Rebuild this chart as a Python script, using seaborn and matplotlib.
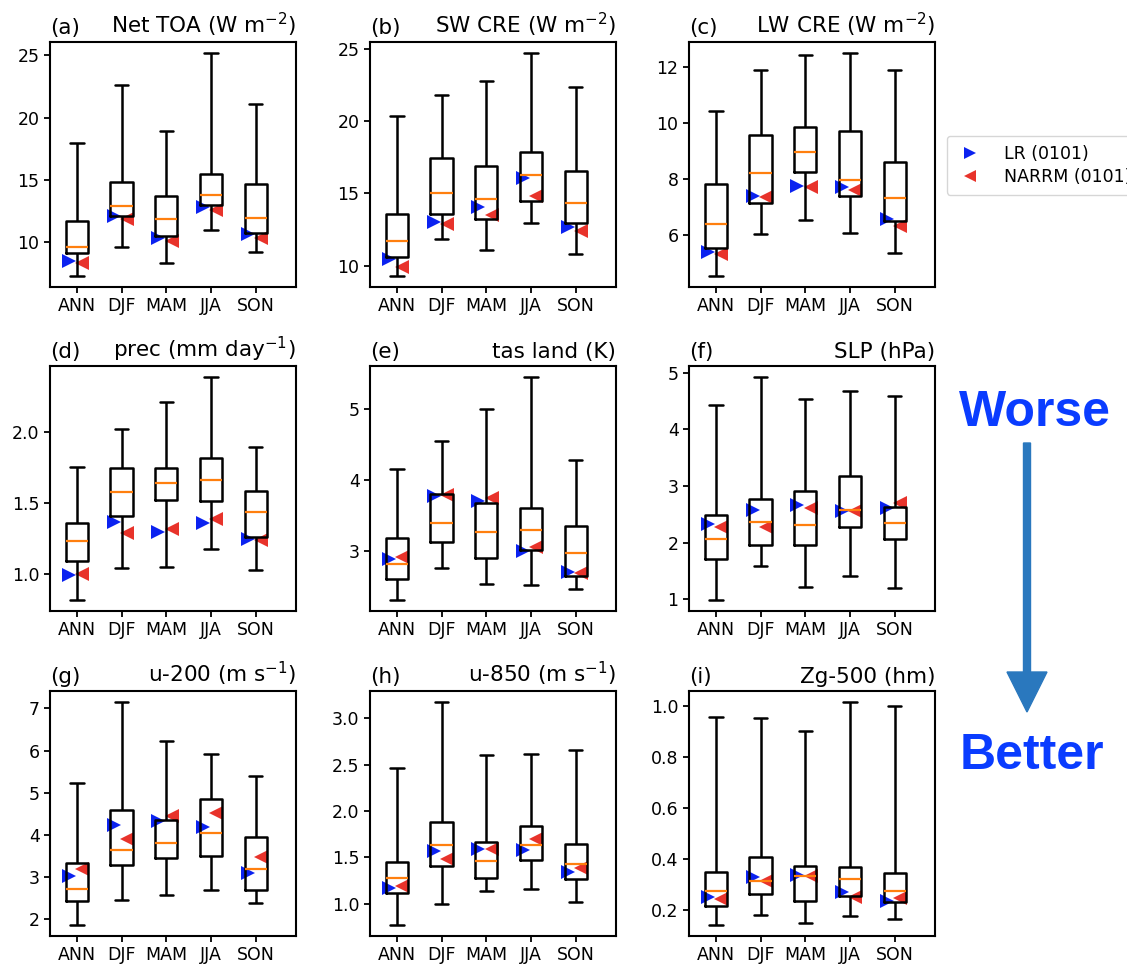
import numpy as np
import pandas as pd
import matplotlib
matplotlib.use("Agg")
import matplotlib.pyplot as plt
import seaborn as sns
from matplotlib.lines import Line2D
from matplotlib.patches import FancyArrow

# ---------------- data ----------------
SEASONS = ["ANN", "DJF", "MAM", "JJA", "SON"]
LETTERS = ["(a)", "(b)", "(c)", "(d)", "(e)", "(f)", "(g)", "(h)", "(i)"]
TITLES = ["Net TOA (W m$^{-2}$)", "SW CRE (W m$^{-2}$)", "LW CRE (W m$^{-2}$)",
          "prec (mm day$^{-1}$)", "tas land (K)", "SLP (hPa)",
          "u-200 (m s$^{-1}$)", "u-850 (m s$^{-1}$)", "Zg-500 (hm)"]

# each row: season -> [min, q1, median, q3, max]
NET_TOA_BOX = [[7.31, 9.12, 9.65, 11.73, 17.95], [9.65, 12.10, 12.93, 14.84, 22.58],
               [8.38, 10.50, 11.84, 13.70, 18.88], [10.98, 12.98, 13.78, 15.45, 25.16],
               [9.26, 10.72, 11.97, 14.71, 21.06]]
NET_TOA_LR = [8.51, 12.10, 10.32, 12.85, 10.66]
NET_TOA_NARRM = [8.32, 11.86, 10.13, 12.58, 10.32]

SW_CRE_BOX = [[9.29, 10.62, 11.68, 13.57, 20.33], [11.86, 13.57, 15.04, 17.43, 21.82],
              [11.08, 13.20, 14.60, 16.90, 22.74], [12.97, 14.44, 16.28, 17.87, 24.70],
              [10.78, 12.92, 14.32, 16.56, 22.35]]
SW_CRE_LR = [10.44, 12.99, 14.03, 16.07, 12.69]
SW_CRE_NARRM = [9.93, 12.88, 13.50, 14.83, 12.42]

LW_CRE_BOX = [[4.52, 5.51, 6.39, 7.81, 10.43], [6.02, 7.12, 8.20, 9.56, 11.90],
              [6.52, 8.25, 8.94, 9.85, 12.45], [6.07, 7.39, 7.94, 9.71, 12.50],
              [5.33, 6.49, 7.32, 8.61, 11.88]]
LW_CRE_LR = [5.39, 7.38, 7.74, 7.69, 6.56]
LW_CRE_NARRM = [5.31, 7.36, 7.71, 7.60, 6.32]

PREC_BOX = [[0.817, 1.094, 1.232, 1.360, 1.754], [1.040, 1.407, 1.574, 1.749, 2.019],
            [1.052, 1.520, 1.642, 1.749, 2.213], [1.176, 1.515, 1.660, 1.817, 2.386],
            [1.028, 1.258, 1.438, 1.585, 1.895]]
PREC_LR = [0.993, 1.365, 1.293, 1.360, 1.244]
PREC_NARRM = [0.998, 1.290, 1.316, 1.386, 1.239]

TAS_BOX = [[2.313, 2.607, 2.813, 3.187, 4.150], [2.757, 3.126, 3.397, 3.808, 4.542],
           [2.537, 2.897, 3.266, 3.678, 5.000], [2.519, 3.014, 3.290, 3.598, 5.444],
           [2.463, 2.654, 2.967, 3.350, 4.276]]
TAS_LR = [2.883, 3.780, 3.706, 3.005, 2.705]
TAS_NARRM = [2.920, 3.794, 3.740, 3.060, 2.696]

SLP_BOX = [[0.988, 1.706, 2.070, 2.494, 4.430], [1.588, 1.959, 2.365, 2.776, 4.924],
           [1.218, 1.953, 2.306, 2.918, 4.535], [1.418, 2.270, 2.576, 3.176, 4.682],
           [1.194, 2.060, 2.353, 2.635, 4.582]]
SLP_LR = [2.320, 2.576, 2.665, 2.560, 2.606]
SLP_NARRM = [2.270, 2.270, 2.620, 2.560, 2.706]

U200_BOX = [[1.858, 2.426, 2.710, 3.325, 5.233], [2.440, 3.270, 3.640, 4.587, 7.150],
            [2.568, 3.450, 3.806, 4.350, 6.227], [2.694, 3.498, 4.050, 4.855, 5.927],
            [2.379, 2.694, 3.190, 3.956, 5.390]]
U200_LR = [3.010, 4.224, 4.320, 4.190, 3.096]
U200_NARRM = [3.190, 3.900, 4.440, 4.520, 3.467]

U850_BOX = [[0.771, 1.111, 1.279, 1.447, 2.463], [0.993, 1.411, 1.637, 1.880, 3.175],
            [1.136, 1.279, 1.465, 1.662, 2.606], [1.154, 1.476, 1.637, 1.834, 2.620],
            [1.021, 1.268, 1.433, 1.648, 2.657]]
U850_LR = [1.165, 1.565, 1.594, 1.583, 1.343]
U850_NARRM = [1.190, 1.479, 1.587, 1.700, 1.390]

ZG500_BOX = [[0.141, 0.217, 0.276, 0.350, 0.958], [0.178, 0.261, 0.313, 0.406, 0.953],
             [0.148, 0.233, 0.333, 0.373, 0.904], [0.174, 0.256, 0.322, 0.369, 1.017],
             [0.165, 0.230, 0.274, 0.346, 1.000]]
ZG500_LR = [0.251, 0.330, 0.339, 0.272, 0.233]
ZG500_NARRM = [0.242, 0.313, 0.333, 0.252, 0.246]

YTICKS = [[10, 15, 20, 25], [10, 15, 20, 25], [6, 8, 10, 12],
          [1.0, 1.5, 2.0], [3, 4, 5], [1, 2, 3, 4, 5],
          [2, 3, 4, 5, 6, 7], [1.0, 1.5, 2.0, 2.5, 3.0], [0.2, 0.4, 0.6, 0.8, 1.0]]

PANELS = [(NET_TOA_BOX, NET_TOA_LR, NET_TOA_NARRM),
          (SW_CRE_BOX, SW_CRE_LR, SW_CRE_NARRM),
          (LW_CRE_BOX, LW_CRE_LR, LW_CRE_NARRM),
          (PREC_BOX, PREC_LR, PREC_NARRM),
          (TAS_BOX, TAS_LR, TAS_NARRM),
          (SLP_BOX, SLP_LR, SLP_NARRM),
          (U200_BOX, U200_LR, U200_NARRM),
          (U850_BOX, U850_LR, U850_NARRM),
          (ZG500_BOX, ZG500_LR, ZG500_NARRM)]

# ---------------- style ----------------
sns.set_style("ticks")
plt.rcParams["font.family"] = ["DejaVu Sans"]
plt.rcParams["text.color"] = "black"
plt.rcParams["axes.labelcolor"] = "black"
plt.rcParams["axes.edgecolor"] = "black"
plt.rcParams["xtick.color"] = "black"
plt.rcParams["ytick.color"] = "black"
plt.rcParams["axes.linewidth"] = 1.5
plt.rcParams["xtick.major.width"] = 1.3
plt.rcParams["ytick.major.width"] = 1.3
plt.rcParams["xtick.major.size"] = 4
plt.rcParams["ytick.major.size"] = 4
plt.rcParams["xtick.labelsize"] = 12.5
plt.rcParams["ytick.labelsize"] = 12.5

BLUE = "#0b22f0"
RED = "#e8332b"
ORANGE = "#ff7f0e"

W, H = 1127, 965
fig = plt.figure(figsize=(W / 100, H / 100), dpi=100)

col_left = [50, 370, 689]
row_top = [42, 366, 691]
aw, ah = 246, 245

pos = np.arange(len(SEASONS))
for k, (box, lr, narrm) in enumerate(PANELS):
    r, c = divmod(k, 3)
    ax = fig.add_axes([col_left[c] / W, 1 - (row_top[r] + ah) / H, aw / W, ah / H])
    rows = []
    for s, vals in zip(SEASONS, box):
        for v in vals:
            rows.append({"season": s, "value": v})
    df = pd.DataFrame(rows)
    sns.boxplot(data=df, x="season", y="value", order=SEASONS, whis=(0, 100),
                width=0.5, fill=False, color="black", linewidth=1.8,
                medianprops={"color": ORANGE, "linewidth": 1.6},
                capwidths=0.3, ax=ax)
    ax.plot(pos - 0.18, lr, linestyle="none", marker=">", ms=9.5, mew=0,
            color=BLUE, zorder=1.5)
    ax.plot(pos + 0.12, narrm, linestyle="none", marker="<", ms=9.5, mew=0,
            color=RED, zorder=1.5)
    ax.set_xlim(-0.6, 4.9)
    ax.set_yticks(YTICKS[k])
    ax.set_xlabel("")
    ax.set_ylabel("")
    ax.set_title(LETTERS[k], loc="left", fontsize=15.5)
    ax.set_title(TITLES[k], loc="right", fontsize=15.5)

# legend
handles = [Line2D([], [], linestyle="none", marker=">", ms=8, mew=0, color=BLUE),
           Line2D([], [], linestyle="none", marker="<", ms=8, mew=0, color=RED)]
fig.legend(handles, ["LR (0101)", "NARRM (0101)"], loc="upper left",
           bbox_to_anchor=(947 / W, 1 - 136 / H), borderaxespad=0,
           fontsize=12.5, frameon=True, borderpad=0.5, handlelength=1.6,
           handletextpad=1.2, labelspacing=0.3)

# Worse -> Better annotation
fig.text(1035 / W, 1 - 413 / H, "Worse", ha="center", va="center",
         fontsize=36, fontweight="bold", color="#0a3cff",
         family=["Liberation Sans", "DejaVu Sans"])
fig.text(1032 / W, 1 - 756 / H, "Better", ha="center", va="center",
         fontsize=36, fontweight="bold", color="#0a3cff",
         family=["Liberation Sans", "DejaVu Sans"])
x0 = 10.27
y_start = (H - 443) / 100
y_end = (H - 712) / 100
fig.add_artist(FancyArrow(x0, y_start, 0, y_end - y_start, width=0.07,
                          head_width=0.40, head_length=0.40,
                          length_includes_head=True, color="#2a78be",
                          transform=fig.dpi_scale_trans))

fig.savefig("out.png", dpi=100)
